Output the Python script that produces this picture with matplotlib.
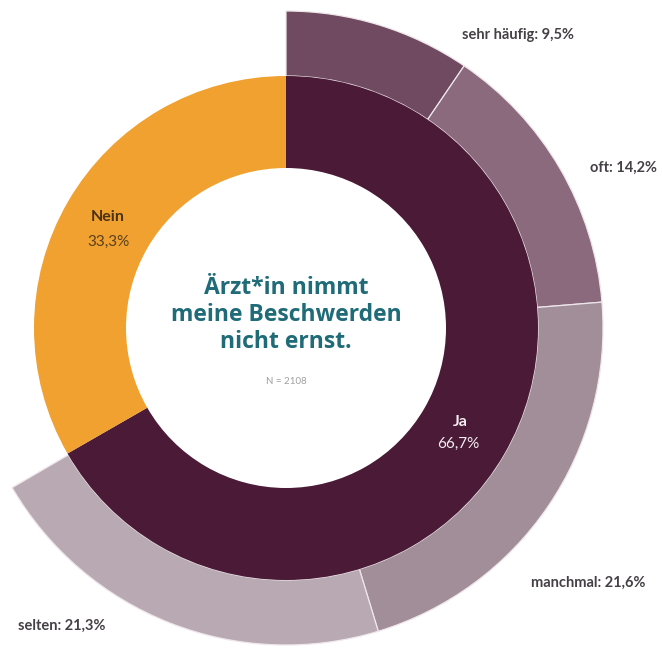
import matplotlib.pyplot as plt

# inner ring
main_labels = ["Ja", "Nein"]
main_values = [66.7, 33.3]
main_colors = ["#4b1a36", "#f0a12f"]

# outer ring (breakdown of "Ja")
sub_labels = ["sehr häufig", "oft", "manchmal", "selten"]
sub_values = [9.5, 14.2, 21.6, 21.3]
sub_colors = ["#6f4a60", "#8a6a7c", "#a18e99", "#b9a9b3"]

title = "Ärzt*in nimmt\nmeine Beschwerden\nnicht ernst."
n_total = 2108


def fmt(v):
    return ("%.1f" % v).replace(".", ",") + "%"


fig = plt.figure(figsize=(6.62, 6.48), dpi=100)
ax = fig.add_axes([0, 0, 1, 1])

cx, cy = 286, 320
r_outer = 317
r_mid = 252
r_hole = 160

# outer ring, the rest (Nein part) left empty
gap = 100 - sum(sub_values)
wedges, _ = ax.pie(sub_values + [gap], radius=r_outer, center=(cx, cy),
                   startangle=90, counterclock=False,
                   colors=sub_colors + ["none"],
                   wedgeprops=dict(width=r_outer - r_mid, edgecolor="#eee6ea", linewidth=0.9))
wedges[-1].set_edgecolor("none")

ax.pie(main_values, radius=r_mid, center=(cx, cy), startangle=90, counterclock=False,
       colors=main_colors, wedgeprops=dict(width=r_mid - r_hole, edgecolor="none"))

ax.set_xlim(0, 662)
ax.set_ylim(0, 648)
ax.set_aspect("equal")
ax.axis("off")

font = "Lato"

# outer labels
label_pos = [(518, 613), (624, 480), (588, 65), (62, 22)]
for name, v, (x, y) in zip(sub_labels, sub_values, label_pos):
    ax.text(x, y, name + ": " + fmt(v), ha="center", va="center", fontsize=10.5,
            fontweight="bold", color="#454045", family=font)

# inner labels
ax.text(108, 431, main_labels[1], ha="center", va="center", fontsize=11.5,
        fontweight="bold", color="#4a3218", family=font)
ax.text(108, 406, fmt(main_values[1]), ha="center", va="center", fontsize=11,
        color="#5a4020", family=font)
ax.text(460, 226, main_labels[0], ha="center", va="center", fontsize=11.5,
        fontweight="bold", color="#f4eef2", family=font)
ax.text(458, 204, fmt(main_values[0]), ha="center", va="center", fontsize=11,
        color="#f4eef2", family=font)

# centre title
ax.text(cx, 333, title, ha="center", va="center", fontsize=16.5, fontweight="bold",
        color="#1f6b78", family="Open Sans", linespacing=1.15)
ax.text(cx, 266, "N = %d" % n_total, ha="center", va="center", fontsize=7,
        color="#a0a0a0", family=font)

fig.savefig("out.png", dpi=100)
